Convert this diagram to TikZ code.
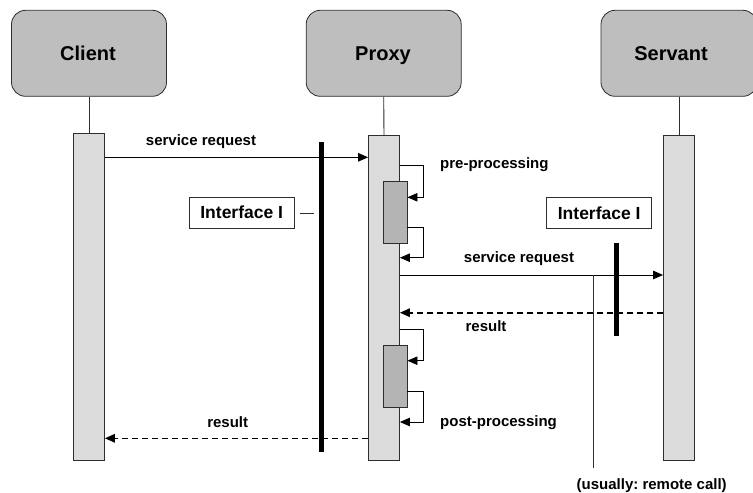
\documentclass[tikz,border=0pt]{standalone}
\usepackage{fontspec}
\setmainfont{Liberation Sans}
\usetikzlibrary{arrows.meta}
\definecolor{actorfill}{RGB}{190,190,190}
\definecolor{barfill}{RGB}{220,220,220}
\definecolor{execfill}{RGB}{180,180,180}
\definecolor{edgegray}{RGB}{45,45,45}
\frenchspacing
\begin{document}
\begin{tikzpicture}[x=1pt,y=-1pt,
  actor/.style={draw=edgegray, fill=actorfill, rounded corners=14pt,
    minimum width=155pt, minimum height=86pt, line width=0.8pt, inner sep=0pt},
  actorname/.style={font=\fontsize{20}{24}\selectfont\bfseries, inner sep=0pt, anchor=base},
  lifebar/.style={draw=edgegray, fill=barfill, line width=0.8pt,
    minimum width=31pt, inner sep=0pt, anchor=north},
  execbox/.style={draw=edgegray, fill=execfill, line width=0.8pt,
    minimum width=23.5pt, minimum height=62pt, inner sep=0pt},
  ifacebox/.style={draw=edgegray, line width=0.7pt, minimum width=105pt,
    minimum height=31pt, inner sep=0pt, font=\fontsize{17.5}{20}\selectfont\bfseries},
  msglabel/.style={font=\fontsize{15}{18}\selectfont\bfseries, inner sep=0pt, anchor=base},
  tip/.style={-{Triangle[length=10pt,width=8.5pt]}},
  msg/.style={tip, line width=1pt},
  reply/.style={tip, line width=1.6pt, dash pattern=on 6pt off 4pt},
  selfcall/.style={tip, line width=0.8pt},
  thinline/.style={line width=0.9pt, draw=edgegray},
  ifacebar/.style={line width=5pt}
]
\useasboundingbox (0,0) rectangle (753,493);
\clip (0,0) rectangle (753,493);

% participants
\node[actor] (client) at (89,53.3) {};
\node[actorname] at (88,60) {Client};
\node[actor] (proxy) at (383.7,53.3) {};
\node[actorname] at (383,60) {Proxy};
\node[actor, minimum width=156pt] (servant) at (679,53.3) {};
\node[actorname] at (671,60) {Servant};

% activation bars
\node[lifebar, minimum height=327pt] (cbar) at (89,133.3) {};
\node[lifebar, minimum height=325pt] (pbar) at (384,135) {};
\node[lifebar, minimum height=325pt] (sbar) at (679,135) {};

% lifelines
\draw[thinline] (client.south) -- (cbar.north);
\draw[thinline] (proxy.south) -- (pbar.north);
\draw[thinline] (servant.south) -- (sbar.north);

% nested executions in the proxy
\node[execbox] (ex1) at (395.3,212.5) {};
\node[execbox] (ex2) at (395.3,376.2) {};

% message heights
\coordinate (m1) at (0,157.3);
\coordinate (m2) at (0,275);
\coordinate (m3) at (0,312.7);
\coordinate (m4) at (0,438.3);
\coordinate (l1a) at (0,165.7);
\coordinate (l1b) at (0,197.3);
\coordinate (l2a) at (0,227.7);
\coordinate (l2b) at (0,257.7);
\coordinate (l3a) at (0,329.3);
\coordinate (l3b) at (0,360.7);
\coordinate (l4a) at (0,391);
\coordinate (l4b) at (0,422);

% interface barriers
\coordinate (bar1top) at (321,142.3);
\coordinate (bar1bot) at (321,451.7);
\coordinate (bar2top) at (616.7,243.3);
\coordinate (bar2bot) at (616.7,336);
\draw[ifacebar] (bar1top) -- (bar1bot);
\draw[ifacebar] (bar2top) -- (bar2bot);

% interface labels
\node[ifacebox] (if1) at (241.7,212.5) {Interface I};
\node[ifacebox] (if2) at (599.2,212.8) {Interface I};
\coordinate (if1tick) at (314,213.3);
\draw[thinline] ([xshift=5pt]if1.east |- if1tick) -- (if1tick);

% messages
\draw[msg] (cbar.east |- m1) -- (pbar.west |- m1);
\node[msglabel] at (201,145.5) {service request};

\draw[selfcall] (pbar.east |- l1a) -- ([xshift=23pt]pbar.east |- l1a) |- (ex1.east |- l1b);
\draw[selfcall] (ex1.east |- l2a) -- ([xshift=23pt]pbar.east |- l2a) |- (pbar.east |- l2b);
\node[msglabel, anchor=base west] at (440,168.5) {pre-processing};

\draw[msg] (pbar.east |- m2) -- (sbar.west |- m2);
\node[msglabel] at (519,262.5) {service request};

\draw[reply] (sbar.west |- m3) -- (pbar.east |- m3);
\node[msglabel] at (486,331.5) {result};

\draw[selfcall] (pbar.east |- l3a) -- ([xshift=23pt]pbar.east |- l3a) |- (ex2.east |- l3b);
\draw[selfcall] (ex2.east |- l4a) -- ([xshift=23pt]pbar.east |- l4a) |- (pbar.east |- l4b);
\node[msglabel, anchor=base west] at (440,426.7) {post-processing};

\draw[reply] (pbar.west |- m4) -- (cbar.east |- m4);
\node[msglabel] at (227.7,427) {result};

% remote call marker
\coordinate (rcfoot) at (593.3,468.3);
\draw[thinline] (rcfoot |- m2) -- (rcfoot);
\node[msglabel] at (651.7,489) {(usually: remote call)};
\end{tikzpicture}
\end{document}
